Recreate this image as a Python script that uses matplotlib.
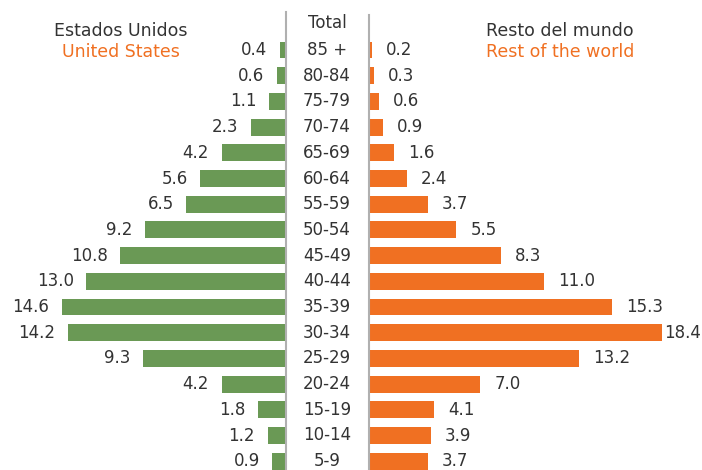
import matplotlib
matplotlib.use("Agg")
import matplotlib.pyplot as plt

# age groups from oldest to youngest, shares in percent
age_groups = ["85 +", "80-84", "75-79", "70-74", "65-69", "60-64", "55-59",
              "50-54", "45-49", "40-44", "35-39", "30-34", "25-29", "20-24",
              "15-19", "10-14", "5-9"]
us_share = [0.4, 0.6, 1.1, 2.3, 4.2, 5.6, 6.5, 9.2, 10.8, 13.0, 14.6, 14.2,
            9.3, 4.2, 1.8, 1.2, 0.9]
world_share = [0.2, 0.3, 0.6, 0.9, 1.6, 2.4, 3.7, 5.5, 8.3, 11.0, 15.3, 18.4,
               13.2, 7.0, 4.1, 3.9, 3.7]

GREEN = "#6a9955"
ORANGE = "#f07022"
TEXT = "#333333"
LINE = "#b0b0b0"

plt.rcParams["font.family"] = ["DejaVu Sans"]

W, H = 702, 470
fig = plt.figure(figsize=(W / 100, H / 100), dpi=100)

def px_axes(x0, x1, y0, y1):
    return fig.add_axes([x0 / W, 1 - y1 / H, (x1 - x0) / W, (y1 - y0) / H])

top, bottom = 12, 470
row0, step = 50, 25.7
ylim = ((bottom - row0) / step, (top - row0) / step)

axl = px_axes(0, 286, top, bottom)
axr = px_axes(369, W, top + 3, bottom)
rows = list(range(len(age_groups)))

axl.barh(rows, us_share, height=0.66, color=GREEN)
axl.set_xlim(286 / 15.35, 0)
axl.set_ylim(ylim)
for r, v in zip(rows, us_share):
    axl.annotate(f"{v:.1f}", (v, r), xytext=(-9, 0), textcoords="offset points",
                 ha="right", va="center", fontsize=12, color=TEXT)

axr.barh(rows, world_share, height=0.66, color=ORANGE)
axr.set_xlim(0, 333 / 15.9)
axr.set_ylim((ylim[0], (top + 3 - row0) / step))
for r, v in zip(rows, world_share):
    # the longest bar leaves little room, so its label sits closer
    gap = 2 if v == max(world_share) else 10
    axr.annotate(f"{v:.1f}", (v, r), xytext=(gap, 0), textcoords="offset points",
                 ha="left", va="center", fontsize=12, color=TEXT,
                 annotation_clip=False)

for ax, side in ((axl, "right"), (axr, "left")):
    for s in ax.spines.values():
        s.set_visible(False)
    ax.spines[side].set_visible(True)
    ax.spines[side].set_color(LINE)
    ax.spines[side].set_linewidth(1.5)
    ax.set_xticks([])
    ax.set_yticks([])
    ax.patch.set_alpha(0)

# age group labels between the two halves
for r, g in zip(rows, age_groups):
    fig.text(327 / W, 1 - (row0 + step * r) / H, g, ha="center", va="center",
             fontsize=12, color=TEXT)
fig.text(327 / W, 1 - 23 / H, "Total", ha="center", va="center",
         fontsize=12, color=TEXT)

fig.text(121 / W, 1 - 31 / H, "Estados Unidos", ha="center", va="center",
         fontsize=12.5, color=TEXT)
fig.text(121 / W, 1 - 52 / H, "United States", ha="center", va="center",
         fontsize=12.5, color=ORANGE)
fig.text(560 / W, 1 - 31 / H, "Resto del mundo", ha="center", va="center",
         fontsize=12.5, color=TEXT)
fig.text(560 / W, 1 - 52 / H, "Rest of the world", ha="center", va="center",
         fontsize=12.5, color=ORANGE)

fig.savefig("out.png", dpi=100)
